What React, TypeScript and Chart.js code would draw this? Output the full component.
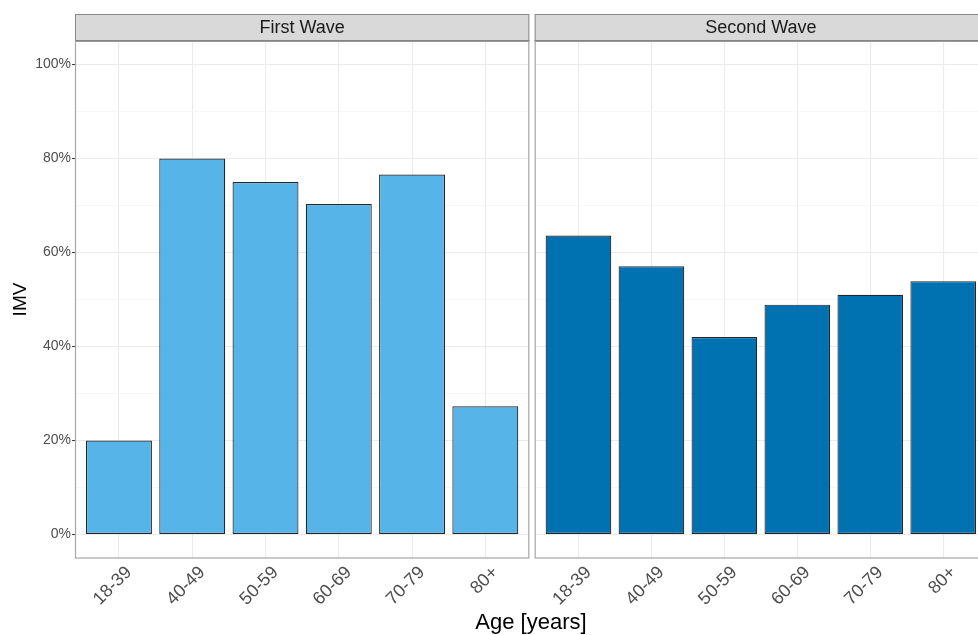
import React, { useEffect, useRef } from 'react';
import { Chart, registerables } from 'chart.js';

Chart.register(...registerables);

const categories = ['18-39', '40-49', '50-59', '60-69', '70-79', '80+'];
const panelTitles = ['First Wave', 'Second Wave'];
const firstWave = [20, 80, 75, 70.3, 76.6, 27.3];
const secondWave = [63.6, 57.1, 42.0, 48.9, 51.0, 53.9];
const yMajorTicks = [0, 20, 40, 60, 80, 100];
const yMinorTicks = [10, 30, 50, 70, 90];
const yTickLabels = ['0%', '20%', '40%', '60%', '80%', '100%'];
const xTitle = 'Age [years]';
const yTitle = 'IMV';
const barColors = ['#56B4E9', '#0072B2'];

const FONT = '"Liberation Sans", Arial, Helvetica, sans-serif';
Chart.defaults.font.family = FONT;

function makeConfig(panel: number, withTitles: boolean, padding: any, yWidth: number): any {
  const values = panel === 0 ? firstWave : secondWave;
  const isLeft = panel === 0;
  const stripPlugin = {
    id: 'strip' + panel,
    afterDraw(chart: any) {
      const { ctx, chartArea } = chart;
      const { left, right, top, bottom } = chartArea;
      ctx.save();
      // strip
      ctx.fillStyle = '#d9d9d9';
      ctx.fillRect(left, 14, right - left, top - 14);
      ctx.strokeStyle = '#8a8a8a';
      ctx.lineWidth = 1;
      ctx.strokeRect(left + 0.5, 14.5, right - left - 1, top - 14);
      ctx.strokeStyle = '#555555';
      ctx.beginPath();
      ctx.moveTo(left, top - 0.5);
      ctx.lineTo(right, top - 0.5);
      ctx.stroke();
      ctx.fillStyle = '#1a1a1a';
      ctx.font = '18px ' + FONT;
      ctx.textAlign = 'center';
      ctx.textBaseline = 'middle';
      ctx.fillText(panelTitles[panel], (left + right) / 2, (14 + top) / 2 + 1);
      // panel border
      ctx.strokeStyle = '#a6a6a6';
      ctx.lineWidth = 1.2;
      ctx.strokeRect(left + 0.5, top, right - left - 1, bottom - top);
      if (withTitles) {
        ctx.fillStyle = '#000000';
        ctx.font = '22px ' + FONT;
        ctx.textAlign = 'center';
        ctx.textBaseline = 'alphabetic';
        ctx.fillText(xTitle, 531, 629);
        ctx.translate(21, (top + bottom) / 2);
        ctx.rotate(-Math.PI / 2);
        ctx.font = '19px ' + FONT;
        ctx.textBaseline = 'middle';
        ctx.fillText(yTitle, 0, 0);
      }
      ctx.restore();
    },
  };
  const isMajor = (v: number) => yMajorTicks.indexOf(v) >= 0;
  return {
    type: 'bar',
    data: {
      datasets: [
        {
          label: panelTitles[panel],
          data: values.map((v, i) => ({ x: i + 1, y: v })),
          backgroundColor: barColors[panel],
          borderColor: '#262626',
          borderWidth: 1.2,
          borderSkipped: false,
          categoryPercentage: 1,
          barPercentage: 0.9,
        },
      ],
    },
    options: {
      animation: false,
      responsive: false,
      layout: { padding },
      plugins: { legend: { display: false }, tooltip: { enabled: false } },
      scales: {
        x: {
          type: 'linear',
          min: 0.4,
          max: categories.length + 0.6,
          offset: false,
          afterBuildTicks: (s: any) => {
            s.ticks = categories.map((_, i) => ({ value: i + 1 }));
          },
          afterFit: (s: any) => {
            s.height = 77;
          },
          ticks: {
            autoSkip: false,
            minRotation: 45,
            maxRotation: 45,
            padding: 4,
            labelOffset: 10,
            color: '#4d4d4d',
            font: { size: 18, family: FONT },
            callback: (v: number) => categories[Math.round(v) - 1] ?? '',
          },
          grid: { color: '#ebebeb', lineWidth: 1.1, drawTicks: false, offset: false },
          border: { display: false },
        },
        y: {
          type: 'linear',
          min: -5,
          max: 105,
          afterBuildTicks: (s: any) => {
            s.ticks = [...yMajorTicks, ...yMinorTicks].sort((a, b) => a - b).map((v) => ({ value: v }));
          },
          afterFit: (s: any) => {
            s.width = yWidth;
          },
          ticks: {
            display: isLeft,
            padding: 1,
            color: '#4d4d4d',
            font: { size: 14, family: FONT },
            callback: (v: number) => {
              const i = yMajorTicks.indexOf(v);
              return i >= 0 ? yTickLabels[i] : '';
            },
          },
          grid: {
            color: (c: any) => (c.tick && isMajor(c.tick.value) ? '#ebebeb' : '#f4f4f4'),
            lineWidth: (c: any) => (c.tick && isMajor(c.tick.value) ? 1.1 : 0.7),
            drawTicks: isLeft,
            tickLength: 3,
            tickWidth: 1,
            tickColor: (c: any) => (c.tick && isMajor(c.tick.value) ? '#333333' : 'rgba(0,0,0,0)'),
          },
          border: { display: false },
        },
      },
    },
    plugins: [stripPlugin],
  };
}

export default function App() {
  const leftRef = useRef<HTMLCanvasElement>(null);
  const rightRef = useRef<HTMLCanvasElement>(null);
  useEffect(() => {
    const c1 = new Chart(
      leftRef.current as HTMLCanvasElement,
      makeConfig(0, true, { left: 0, top: 41, right: 978 - 529.3, bottom: 0 }, 75)
    );
    const c2 = new Chart(
      rightRef.current as HTMLCanvasElement,
      makeConfig(1, false, { left: 4.7, top: 41, right: 3, bottom: 0 }, 0)
    );
    return () => {
      c1.destroy();
      c2.destroy();
    };
  }, []);
  return (
    <div
      style={{
        position: 'fixed',
        left: 0,
        top: 0,
        width: 978,
        height: 635,
        overflow: 'hidden',
        background: '#ffffff',
      }}
    >
      <canvas
        ref={leftRef}
        width={978}
        height={635}
        style={{ position: 'absolute', left: 0, top: 0, width: 978, height: 635 }}
      />
      <canvas
        ref={rightRef}
        width={460}
        height={635}
        style={{ position: 'absolute', left: 530, top: 0, width: 460, height: 635 }}
      />
    </div>
  );
}
